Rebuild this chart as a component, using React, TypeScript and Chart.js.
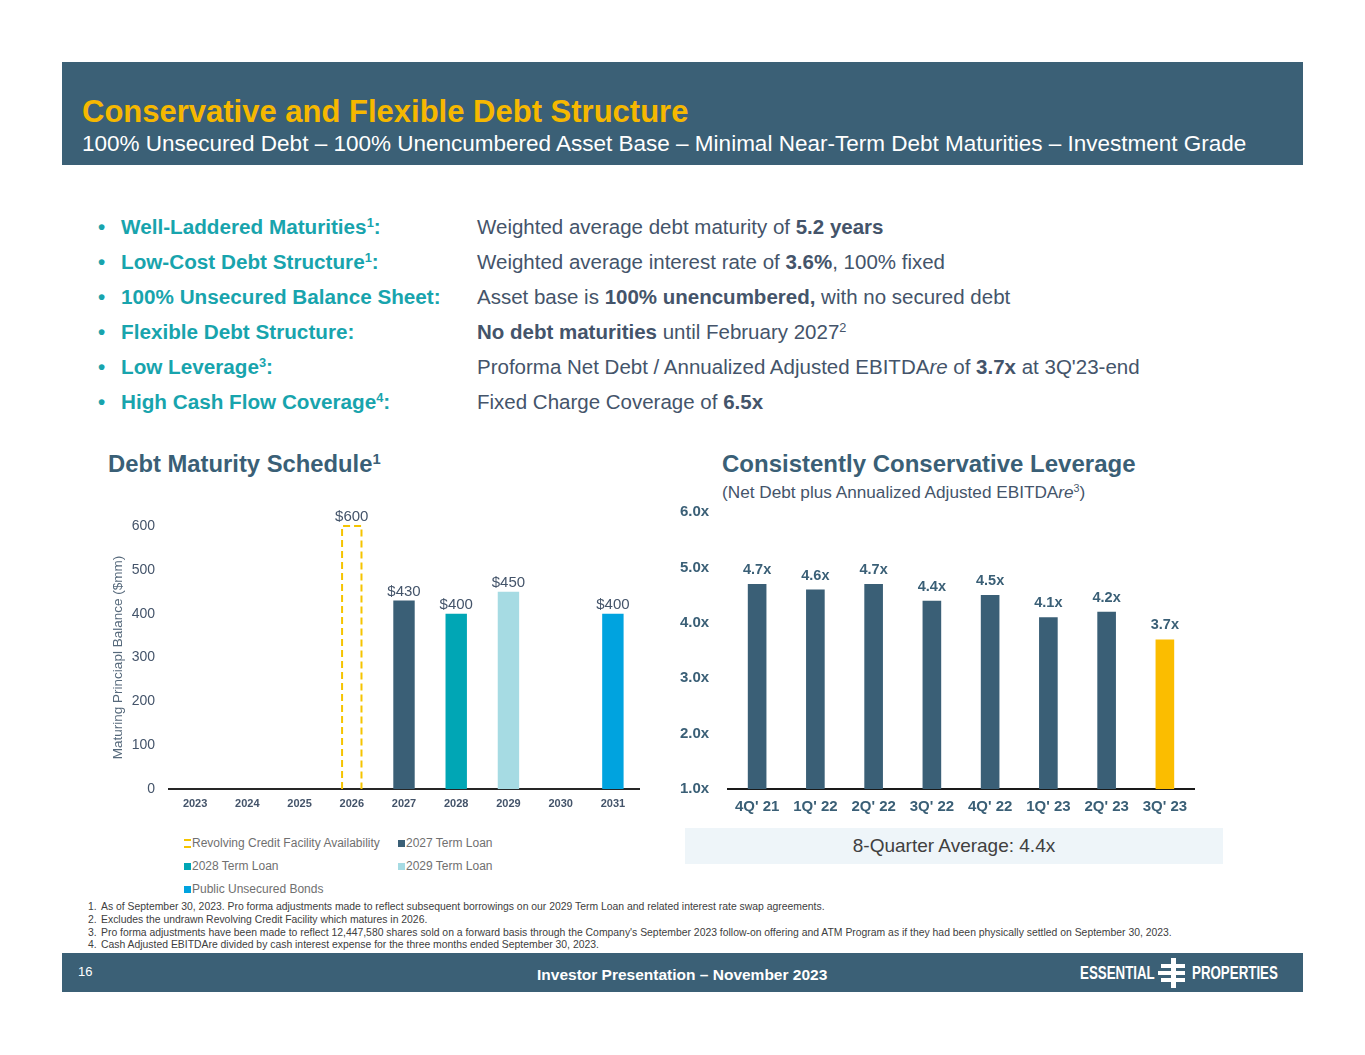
import React, { useEffect, useRef } from 'react';
import { Chart, registerables } from 'chart.js';

Chart.register(...registerables);

const FONT = '"Liberation Sans", Arial, Helvetica, sans-serif';
Chart.defaults.font.family = FONT;

// ---------- Data: Debt Maturity Schedule ----------
const maturityYears = ['2023', '2024', '2025', '2026', '2027', '2028', '2029', '2030', '2031'];
const revolverAvailability = [null, null, null, 600, null, null, null, null, null];
const termLoan2027 = [null, null, null, null, 430, null, null, null, null];
const termLoan2028 = [null, null, null, null, null, 400, null, null, null];
const termLoan2029 = [null, null, null, null, null, null, 450, null, null];
const publicUnsecuredBonds = [null, null, null, null, null, null, null, null, 400];
const maturitySeriesNames = [
  'Revolving Credit Facility Availability',
  '2027 Term Loan',
  '2028 Term Loan',
  '2029 Term Loan',
  'Public Unsecured Bonds',
];
const maturityAxisMin = 0;
const maturityAxisMax = 600;
const maturityAxisStep = 100;

// ---------- Data: Leverage ----------
const quarters = ["4Q' 21", "1Q' 22", "2Q' 22", "3Q' 22", "4Q' 22", "1Q' 23", "2Q' 23", "3Q' 23"];
const leverageMultiples = [4.7, 4.6, 4.7, 4.4, 4.5, 4.1, 4.2, 3.7];
const leverageAxisMin = 1;
const leverageAxisMax = 6;
const leverageAxisStep = 1;

// ---------- Styles ----------
const SLATE = '#3b6076';
const GOLD_TITLE = '#f6b800';
const TEAL = '#18a4ad';
const BODY = '#44546a';
const BAR_DARK = '#3a5f76';
const BAR_TEAL = '#00a6b5';
const BAR_LIGHT = '#a6dbe3';
const BAR_BLUE = '#00a3df';
const BAR_GOLD = '#fbbd00';
const DASH_GOLD = '#f5c400';

const maturityColors = ['transparent', BAR_DARK, BAR_TEAL, BAR_LIGHT, BAR_BLUE];

const valueLabelPlugin = (fmt: (v: number) => string, font: string, color: string, gap: number) => ({
  id: 'valueLabels',
  afterDatasetsDraw(chart: any) {
    const ctx = chart.ctx;
    ctx.save();
    ctx.font = font;
    ctx.fillStyle = color;
    ctx.textAlign = 'center';
    ctx.textBaseline = 'alphabetic';
    chart.data.datasets.forEach((ds: any, di: number) => {
      const meta = chart.getDatasetMeta(di);
      meta.data.forEach((el: any, i: number) => {
        const v = ds.data[i];
        if (v === null || v === undefined) return;
        const { x, y } = el.getProps(['x', 'y'], true);
        ctx.fillText(fmt(v), x, y - gap);
      });
    });
    ctx.restore();
  },
});

const dashedRevolverPlugin = {
  id: 'dashedRevolver',
  afterDatasetsDraw(chart: any) {
    const meta = chart.getDatasetMeta(0);
    const ctx = chart.ctx;
    ctx.save();
    ctx.strokeStyle = DASH_GOLD;
    ctx.lineWidth = 2;
    ctx.setLineDash([7, 4]);
    meta.data.forEach((el: any, i: number) => {
      const v = chart.data.datasets[0].data[i];
      if (v === null || v === undefined) return;
      const { x, y, base, width } = el.getProps(['x', 'y', 'base', 'width'], true);
      const l = x - width / 2 + 1;
      const r = x + width / 2 - 1;
      ctx.beginPath();
      ctx.moveTo(l, base);
      ctx.lineTo(l, y);
      ctx.lineTo(r, y);
      ctx.lineTo(r, base);
      ctx.stroke();
    });
    ctx.restore();
  },
};

function MaturityChart() {
  const ref = useRef<HTMLCanvasElement>(null);
  useEffect(() => {
    if (!ref.current) return;
    const series = [revolverAvailability, termLoan2027, termLoan2028, termLoan2029, publicUnsecuredBonds];
    const chart = new Chart(ref.current, {
      type: 'bar',
      data: {
        labels: maturityYears,
        datasets: series.map((d, i) => ({
          label: maturitySeriesNames[i],
          data: d as any,
          backgroundColor: maturityColors[i],
          borderWidth: 0,
          barPercentage: 0.41,
          categoryPercentage: 1,
        })),
      },
      options: {
        responsive: false,
        animation: false,
        events: [],
        layout: { padding: { top: 26, right: 6, left: 0, bottom: 0 } },
        plugins: { legend: { display: false }, tooltip: { enabled: false } },
        scales: {
          x: {
            stacked: true,
            grid: { display: false, drawTicks: false },
            border: { display: true, color: '#262626', width: 2 },
            ticks: { font: { size: 11, weight: 'bold' }, color: BODY, padding: 8 },
            afterFit: (s: any) => { s.height = 31; },
          },
          y: {
            stacked: true,
            min: maturityAxisMin,
            max: maturityAxisMax,
            grid: { display: false, drawTicks: false },
            border: { display: false },
            ticks: { stepSize: maturityAxisStep, font: { size: 14 }, color: BODY, padding: 14 },
            title: {
              display: true,
              text: 'Maturing Princiapl Balance ($mm)',
              font: { size: 13.5 },
              color: '#56697b',
              padding: { top: 10, bottom: 0 },
            },
            afterFit: (s: any) => { s.width = 69; },
          },
        } as any,
      },
      plugins: [dashedRevolverPlugin, valueLabelPlugin((v) => '$' + v, `15px ${FONT}`, BODY, 5)],
    });
    return () => chart.destroy();
  }, []);
  return <canvas ref={ref} width={545} height={320} style={{ position: 'absolute', left: 100, top: 500, width: 545, height: 320 }} />;
}

function LeverageChart() {
  const ref = useRef<HTMLCanvasElement>(null);
  useEffect(() => {
    if (!ref.current) return;
    const last = leverageMultiples.length - 1;
    const chart = new Chart(ref.current, {
      type: 'bar',
      data: {
        labels: quarters,
        datasets: [
          {
            label: 'Leverage',
            data: leverageMultiples,
            backgroundColor: (c: any) => (c.dataIndex === last ? BAR_GOLD : BAR_DARK),
            borderWidth: 0,
            barPercentage: 0.32,
            categoryPercentage: 1,
          },
        ],
      },
      options: {
        responsive: false,
        animation: false,
        events: [],
        layout: { padding: { top: 12, right: 11, left: 0, bottom: 0 } },
        plugins: { legend: { display: false }, tooltip: { enabled: false } },
        scales: {
          x: {
            grid: { display: false, drawTicks: false },
            border: { display: true, color: '#1a1a1a', width: 2 },
            ticks: { font: { size: 15, weight: 'bold' }, color: BAR_DARK, padding: 9 },
            afterFit: (s: any) => { s.height = 36; },
          },
          y: {
            min: leverageAxisMin,
            max: leverageAxisMax,
            grid: { display: false, drawTicks: false },
            border: { display: false },
            ticks: {
              stepSize: leverageAxisStep,
              font: { size: 15, weight: 'bold' },
              color: BAR_DARK,
              padding: 0,
              crossAlign: 'far',
              callback: (v: any) => Number(v).toFixed(1) + 'x',
            },
            afterFit: (s: any) => { s.width = 48; },
          },
        } as any,
      },
      plugins: [valueLabelPlugin((v) => v.toFixed(1) + 'x', `bold 14.5px ${FONT}`, BAR_DARK, 10)],
    });
    return () => chart.destroy();
  }, []);
  return <canvas ref={ref} width={525} height={325} style={{ position: 'absolute', left: 680, top: 500, width: 525, height: 325 }} />;
}

const Sup = ({ children }: { children: React.ReactNode }) => (
  <span style={{ fontSize: '0.62em', position: 'relative', top: '-0.55em' }}>{children}</span>
);

const bulletRows: { label: React.ReactNode; text: React.ReactNode }[] = [
  { label: <>Well-Laddered Maturities<Sup>1</Sup>:</>, text: <>Weighted average debt maturity of <b>5.2 years</b></> },
  { label: <>Low-Cost Debt Structure<Sup>1</Sup>:</>, text: <>Weighted average interest rate of <b>3.6%</b>, 100% fixed</> },
  { label: <>100% Unsecured Balance Sheet:</>, text: <>Asset base is <b>100% unencumbered,</b> with no secured debt</> },
  { label: <>Flexible Debt Structure:</>, text: <><b>No debt maturities</b> until February 2027<Sup>2</Sup></> },
  { label: <>Low Leverage<Sup>3</Sup>:</>, text: <>Proforma Net Debt / Annualized Adjusted EBITDA<i>re</i> of <b>3.7x</b> at 3Q'23-end</> },
  { label: <>High Cash Flow Coverage<Sup>4</Sup>:</>, text: <>Fixed Charge Coverage of <b>6.5x</b></> },
];

const footnotes = [
  'As of September 30, 2023. Pro forma adjustments made to reflect subsequent borrowings on our 2029 Term Loan and related interest rate swap agreements.',
  'Excludes the undrawn Revolving Credit Facility which matures in 2026.',
  "Pro forma adjustments have been made to reflect 12,447,580 shares sold on a forward basis through the Company's September 2023 follow-on offering and ATM Program as if they had been physically settled on September 30, 2023.",
  'Cash Adjusted EBITDAre divided by cash interest expense for the three months ended September 30, 2023.',
];

function LegendMarker({ index }: { index: number }) {
  if (index === 0) {
    return (
      <span style={{ display: 'inline-block', width: 7, height: 5, borderTop: `2px solid ${DASH_GOLD}`, borderBottom: `2px solid ${DASH_GOLD}`, marginRight: 1, verticalAlign: 'middle' }} />
    );
  }
  return <span style={{ display: 'inline-block', width: 7, height: 7, background: maturityColors[index], marginRight: 1, verticalAlign: 'middle' }} />;
}

export default function App() {
  const abs = (l: number, t: number, extra: React.CSSProperties = {}): React.CSSProperties => ({ position: 'absolute', left: l, top: t, ...extra });
  const legendPos = [
    [184, 843],
    [398, 843],
    [184, 866],
    [398, 866],
    [184, 889],
  ];
  return (
    <div style={{ position: 'absolute', left: 0, top: 0, width: 1365, height: 1055, background: '#fff', overflow: 'hidden', fontFamily: FONT }}>
      {/* Header */}
      <div style={abs(62, 62, { width: 1241, height: 103, background: SLATE })} />
      <div style={abs(82, 94, { fontSize: 31, fontWeight: 'bold', color: GOLD_TITLE, lineHeight: '35px', whiteSpace: 'nowrap' })}>
        Conservative and Flexible Debt Structure
      </div>
      <div style={abs(82, 131, { fontSize: 22.5, color: '#fff', lineHeight: '26px', whiteSpace: 'nowrap' })}>
        100% Unsecured Debt – 100% Unencumbered Asset Base – Minimal Near-Term Debt Maturities – Investment Grade
      </div>

      {/* Bullets */}
      {bulletRows.map((r, i) => {
        const cy = 227 + i * 35;
        return (
          <React.Fragment key={i}>
            <div style={abs(98, cy - 12, { fontSize: 20.5, color: TEAL, lineHeight: '24px', fontWeight: 'bold' })}>•</div>
            <div style={abs(121, cy - 12, { fontSize: 20.7, color: TEAL, lineHeight: '24px', fontWeight: 'bold', whiteSpace: 'nowrap' })}>{r.label}</div>
            <div style={abs(477, cy - 12, { fontSize: 20.5, color: BODY, lineHeight: '24px', whiteSpace: 'nowrap' })}>{r.text}</div>
          </React.Fragment>
        );
      })}

      {/* Left chart titles */}
      <div style={abs(108, 450, { fontSize: 23.8, fontWeight: 'bold', color: BAR_DARK, lineHeight: '28px', whiteSpace: 'nowrap' })}>
        Debt Maturity Schedule<Sup>1</Sup>
      </div>
      <MaturityChart />
      {legendPos.map((p, i) => (
        <div key={i} style={abs(p[0], p[1] - 8, { fontSize: 12, color: '#707070', lineHeight: '16px', whiteSpace: 'nowrap' })}>
          <LegendMarker index={i} />
          {maturitySeriesNames[i]}
        </div>
      ))}

      {/* Right chart titles */}
      <div style={abs(722, 450, { fontSize: 24, fontWeight: 'bold', color: BAR_DARK, lineHeight: '28px', whiteSpace: 'nowrap' })}>
        Consistently Conservative Leverage
      </div>
      <div style={abs(722, 482, { fontSize: 17.2, color: BODY, lineHeight: '20px', whiteSpace: 'nowrap' })}>
        (Net Debt plus Annualized Adjusted EBITDA<i>re</i>
        <Sup>3</Sup>)
      </div>
      <LeverageChart />
      <div style={abs(685, 828, { width: 538, height: 36, background: '#eef5f9', display: 'flex', alignItems: 'center', justifyContent: 'center', fontSize: 19, color: '#404040' })}>
        8-Quarter Average: 4.4x
      </div>

      {/* Footnotes */}
      {footnotes.map((f, i) => (
        <div key={i} style={abs(88, 901 + i * 12.8, { fontSize: 10.4, color: '#404040', lineHeight: '12px', whiteSpace: 'nowrap' })}>
          <span style={{ display: 'inline-block', width: 13 }}>{i + 1}.</span>
          {f}
        </div>
      ))}

      {/* Footer */}
      <div style={abs(62, 953, { width: 1241, height: 39, background: SLATE })} />
      <div style={abs(78, 964, { fontSize: 13, color: '#fff', lineHeight: '16px' })}>16</div>
      <div style={abs(537, 966, { fontSize: 15.5, color: '#fff', fontWeight: 'bold', lineHeight: '18px', whiteSpace: 'nowrap' })}>
        Investor Presentation – November 2023
      </div>
      <div style={abs(1080, 962, { fontSize: 18, color: '#fff', fontWeight: 'bold', lineHeight: '22px', whiteSpace: 'nowrap', transform: 'scaleX(0.74)', transformOrigin: 'left center' })}>
        ESSENTIAL
      </div>
      <div style={abs(1192, 962, { fontSize: 18, color: '#fff', fontWeight: 'bold', lineHeight: '22px', whiteSpace: 'nowrap', transform: 'scaleX(0.74)', transformOrigin: 'left center' })}>
        PROPERTIES
      </div>
      {/* logo mark */}
      <div style={abs(1171, 958, { width: 5, height: 30, background: '#fff' })} />
      <div style={abs(1161, 964, { width: 24, height: 4, background: '#fff' })} />
      <div style={abs(1158, 971, { width: 27, height: 4, background: '#fff' })} />
      <div style={abs(1161, 978, { width: 24, height: 4, background: '#fff' })} />
    </div>
  );
}
